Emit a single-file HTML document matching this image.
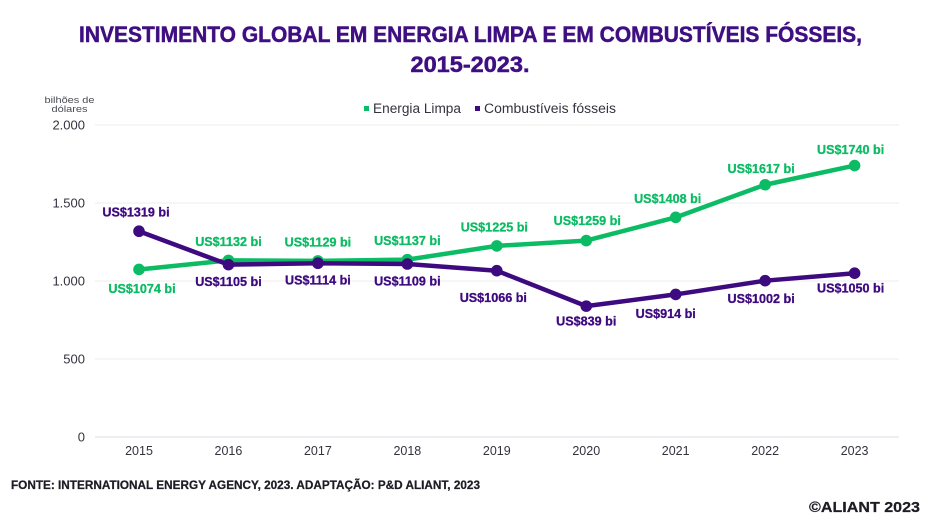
<!DOCTYPE html>
<html lang="pt">
<head>
<meta charset="utf-8">
<title>Investimento global em energia limpa e em combustíveis fósseis</title>
<style>
html,body{margin:0;padding:0;background:#fff;width:940px;height:529px;overflow:hidden}
svg{display:block;font-family:"Liberation Sans",sans-serif}
</style>
</head>
<body>
<svg id="chart" width="940" height="529" viewBox="0 0 940 529" xmlns="http://www.w3.org/2000/svg">
  <rect width="940" height="529" fill="#ffffff"/>
  <text x="470.500" y="42" text-anchor="middle" font-size="22" font-weight="700" fill="#3f0f82" stroke="#3f0f82" stroke-width="0.5" textLength="783" lengthAdjust="spacingAndGlyphs">INVESTIMENTO GLOBAL EM ENERGIA LIMPA E EM COMBUSTÍVEIS FÓSSEIS,</text>
  <text x="470" y="72" text-anchor="middle" font-size="22" font-weight="700" fill="#3f0f82" stroke="#3f0f82" stroke-width="0.5" textLength="119" lengthAdjust="spacingAndGlyphs">2015-2023.</text>
  <text x="69.500" y="103" text-anchor="middle" font-size="9.500" fill="#4a4a55" textLength="50" lengthAdjust="spacingAndGlyphs">bilhões de</text>
  <text x="69.500" y="112" text-anchor="middle" font-size="9.500" fill="#4a4a55" textLength="36" lengthAdjust="spacingAndGlyphs">dólares</text>
  <g>
    <rect x="364" y="106" width="5" height="5" fill="#0cbc64"/>
    <text x="373" y="113" font-size="13.500" fill="#33333f" textLength="88" lengthAdjust="spacingAndGlyphs">Energia Limpa</text>
    <rect x="475" y="106" width="5" height="5" fill="#3d0a7f"/>
    <text x="484" y="113" font-size="13.500" fill="#33333f" textLength="132" lengthAdjust="spacingAndGlyphs">Combustíveis fósseis</text>
  </g>
  <g id="grid"></g>
  <g id="yticks"></g>
  <g id="xticks"></g>
  <g id="series"></g>
  <g id="labels"></g>
  <text x="11" y="489" font-size="12" font-weight="700" fill="#1c1c24" stroke="#1c1c24" stroke-width="0.25" textLength="469" lengthAdjust="spacingAndGlyphs">FONTE: INTERNATIONAL ENERGY AGENCY, 2023. ADAPTAÇÃO: P&amp;D ALIANT, 2023</text>
  <text x="809" y="512" font-size="15" font-weight="700" fill="#1c1c24" stroke="#1c1c24" stroke-width="0.25" textLength="111" lengthAdjust="spacingAndGlyphs">©ALIANT 2023</text>
</svg>
<script>
const years = ['2015', '2016', '2017', '2018', '2019', '2020', '2021', '2022', '2023'];
const cleanEnergy = [1074, 1132, 1129, 1137, 1225, 1259, 1408, 1617, 1740];
const fossilFuels = [1319, 1105, 1114, 1109, 1066, 839, 914, 1002, 1050];
const yTickValues = [0, 500, 1000, 1500, 2000];
const yTickLabels = ['0', '500', '1.000', '1.500', '2.000'];

const NS = 'http://www.w3.org/2000/svg';
const GREEN = '#0cbc64';
const PURPLE = '#3d0a7f';

function xScale(i) { return 139 + i * 89.45; }
function yScale(v) { return 437 - v * 0.156; }

function make(tag, attrs, text) {
  const el = document.createElementNS(NS, tag);
  for (const k in attrs) el.setAttribute(k, attrs[k]);
  if (text !== undefined) el.textContent = text;
  return el;
}

const gridG = document.getElementById('grid');
const yG = document.getElementById('yticks');
const xG = document.getElementById('xticks');
const seriesG = document.getElementById('series');
const labelsG = document.getElementById('labels');

yTickValues.forEach(function (v, i) {
  const line = make('line', { x1: 95, x2: 899, y1: yScale(v), y2: yScale(v), stroke: v === 0 ? '#d9dde6' : '#eeeeee', 'stroke-width': 1 });
  
  
  gridG.appendChild(line);
  const t = make('text', { x: 85, y: yScale(v) + 4.5, 'text-anchor': 'end', 'font-size': 13, fill: '#33333f' }, yTickLabels[i]);
  
  
  yG.appendChild(t);
});

years.forEach(function (y, i) {
  const t = make('text', { x: xScale(i), y: 455, 'text-anchor': 'middle', 'font-size': 12.5, fill: '#33333f' }, y);
  
  
  xG.appendChild(t);
});

function drawSeries(values, color, slug) {
  const pts = values.map(function (v, i) { return xScale(i) + ',' + yScale(v); }).join(' ');
  const line = make('polyline', { points: pts, fill: 'none', stroke: color, 'stroke-width': 4.5, 'stroke-linejoin': 'round', 'stroke-linecap': 'round' });
  
  
  seriesG.appendChild(line);
  values.forEach(function (v, i) {
    const dot = make('circle', { cx: xScale(i), cy: yScale(v), r: 5.8, fill: color });
    
    
    seriesG.appendChild(dot);
  });
}

function cleanOffset(i) {
  if (i === 0) return { dx: 3, dy: 19 };
  if (i === 4) return { dx: -2.500, dy: -19 };
  if (i === 6) return { dx: -8, dy: -19 };
  if (i === 7) return { dx: -4, dy: -16 };
  if (i === 8) return { dx: -4, dy: -16 };
  if (i === 5) return { dx: 1, dy: -20 };
  return { dx: 0, dy: -19 };
}

function fossilOffset(i) {
  if (i === 0) return { dx: -3, dy: -19 };
  if (i === 4) return { dx: -3.500, dy: 27 };
  if (i === 5) return { dx: 0, dy: 15 };
  if (i === 6) return { dx: -10, dy: 19 };
  if (i === 7) return { dx: -4, dy: 18 };
  if (i === 8) return { dx: -4, dy: 15 };
  return { dx: 0, dy: 17 };
}

function drawLabels(values, color, slug, offset) {
  values.forEach(function (v, i) {
    const o = offset(i);
    const t = make('text', { x: xScale(i) + o.dx, y: yScale(v) + o.dy + 4.5, 'text-anchor': 'middle', 'font-size': 12.6, 'font-weight': 700, fill: color, stroke: color, 'stroke-width': 0.3 }, 'US$' + v + ' bi');
    
    
    labelsG.appendChild(t);
  });
}

drawSeries(cleanEnergy, GREEN, 'energia-limpa');
drawSeries(fossilFuels, PURPLE, 'combustiveis-fosseis');
drawLabels(cleanEnergy, GREEN, 'energia-limpa', cleanOffset);
drawLabels(fossilFuels, PURPLE, 'combustiveis-fosseis', fossilOffset);
</script>
</body>
</html>
